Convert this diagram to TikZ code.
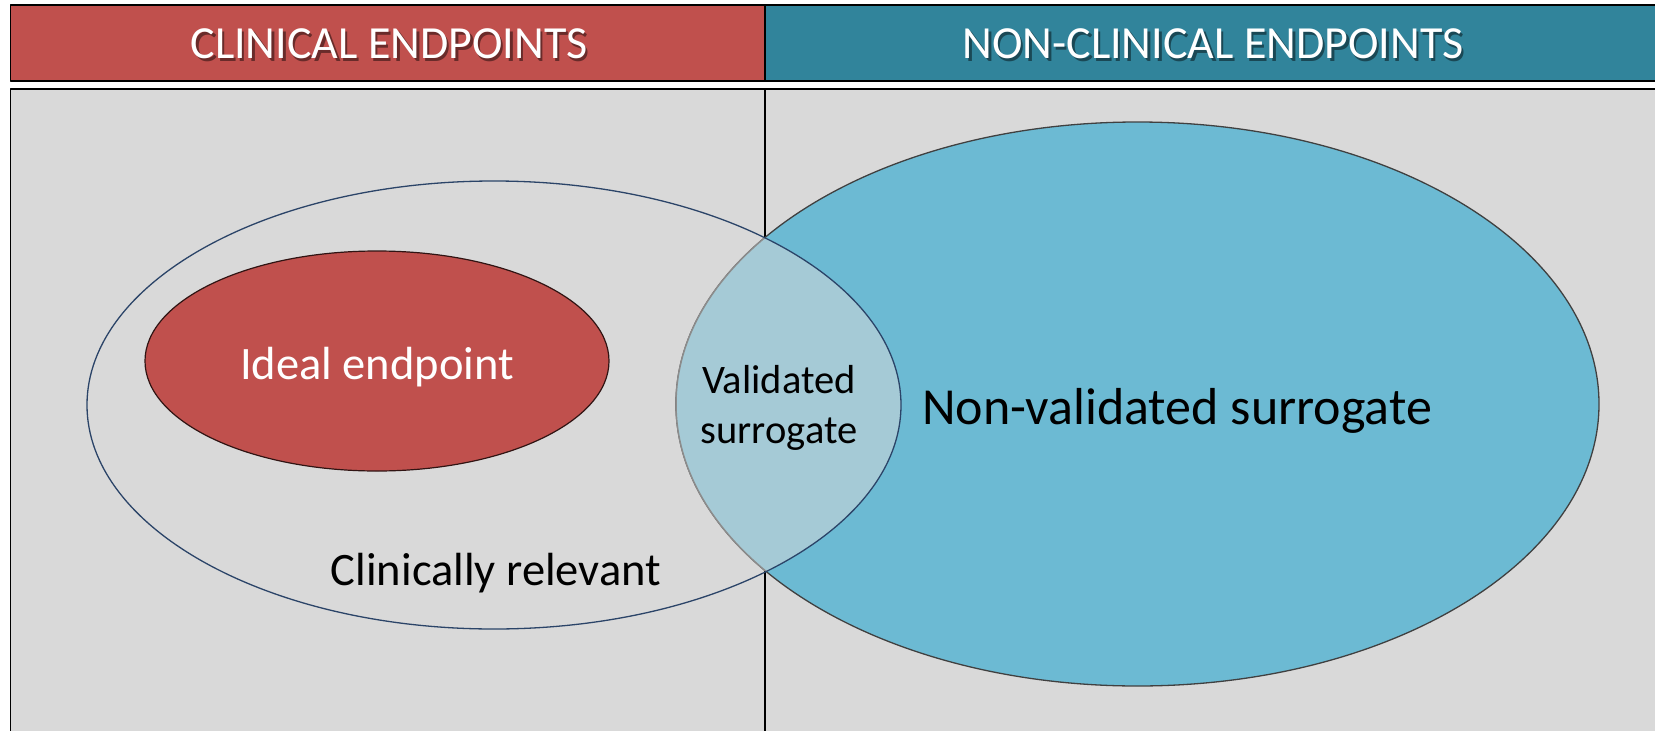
\documentclass[tikz,border=0pt]{standalone}
\usepackage{fontspec}
\setmainfont{Carlito}

\definecolor{clinred}{HTML}{C0504D}
\definecolor{headteal}{HTML}{31849B}
\definecolor{panelgray}{HTML}{D9D9D9}
\definecolor{nvblue}{HTML}{6CBAD3}
\definecolor{lensblue}{HTML}{A5CAD6}
\definecolor{clinnavy}{HTML}{2B4468}
\definecolor{nvedge}{HTML}{404040}
\definecolor{lensedge}{HTML}{8C8C8C}

\tikzset{
  headtext/.style={text=white, font=\fontsize{46}{50}\selectfont, inner sep=0pt},
  headshadow/.style={text=black, opacity=0.45, font=\fontsize{46}{50}\selectfont, inner sep=0pt},
  bodytext/.style={text=black, inner sep=0pt, anchor=base},
  frame/.style={black, line width=1.6pt},
  divider/.style={black, line width=1.2pt},
}

\begin{document}
\begin{tikzpicture}[x=1pt, y=-1pt, line join=round]
\useasboundingbox (0,0) rectangle (1655,731);
\fill[white] (0,0) rectangle (1655,731);

% lower panel
\fill[panelgray] (10.5,89) rectangle (1660,740);
\draw[frame] (10.5,740) -- (10.5,89) -- (1660,89);
\draw[divider] (765,89) -- (765,740);

% header bands
\fill[clinred] (10.5,5) rectangle (765,81);
\fill[headteal] (765,5) rectangle (1660,81);
\draw[frame] (1660,5) -- (10.5,5) -- (10.5,81) -- (1660,81);
\draw[divider] (765,5) -- (765,81);

\node[headshadow] (hcs) at (391.5,46.5) {CLINICAL ENDPOINTS};
\node[headtext] (hc) at (389,44) {CLINICAL ENDPOINTS};
\node[headshadow] (hns) at (1215.5,46.5) {NON-CLINICAL ENDPOINTS};
\node[headtext] (hn) at (1213,44) {NON-CLINICAL ENDPOINTS};

% non-validated surrogate region
\fill[nvblue] (1137.5,404) ellipse [x radius=461.5pt, y radius=282pt];
\draw[nvedge, line width=1.3pt] (1137.5,404) ellipse [x radius=461.5pt, y radius=282pt];

% overlap of the two regions
\begin{scope}
  \clip (494,405) ellipse [x radius=407pt, y radius=224pt];
  \fill[lensblue] (1137.5,404) ellipse [x radius=461.5pt, y radius=282pt];
  \draw[lensedge, line width=1.5pt] (1137.5,404) ellipse [x radius=461.5pt, y radius=282pt];
\end{scope}

% clinically relevant region
\draw[clinnavy, line width=1.3pt] (494,405) ellipse [x radius=407pt, y radius=224pt];

% ideal endpoint
\fill[clinred] (377,361) ellipse [x radius=232pt, y radius=110pt];
\draw[black!75!clinred, line width=1.2pt] (377,361) ellipse [x radius=232pt, y radius=110pt];

\node[bodytext, text=white, font=\fontsize{46.5}{50}\selectfont] (ideal) at (377,379) {Ideal endpoint};
\node[bodytext, font=\fontsize{52}{56}\selectfont] (nonval) at (1177,424) {Non-validated surrogate};
\node[bodytext, font=\fontsize{40.5}{44}\selectfont] (val1) at (779,393) {Validated};
\node[bodytext, font=\fontsize{40.5}{44}\selectfont] (val2) at (779,443) {surrogate};
\node[bodytext, font=\fontsize{46.5}{50}\selectfont] (clinrel) at (496,585) {Clinically relevant};
\end{tikzpicture}
\end{document}
